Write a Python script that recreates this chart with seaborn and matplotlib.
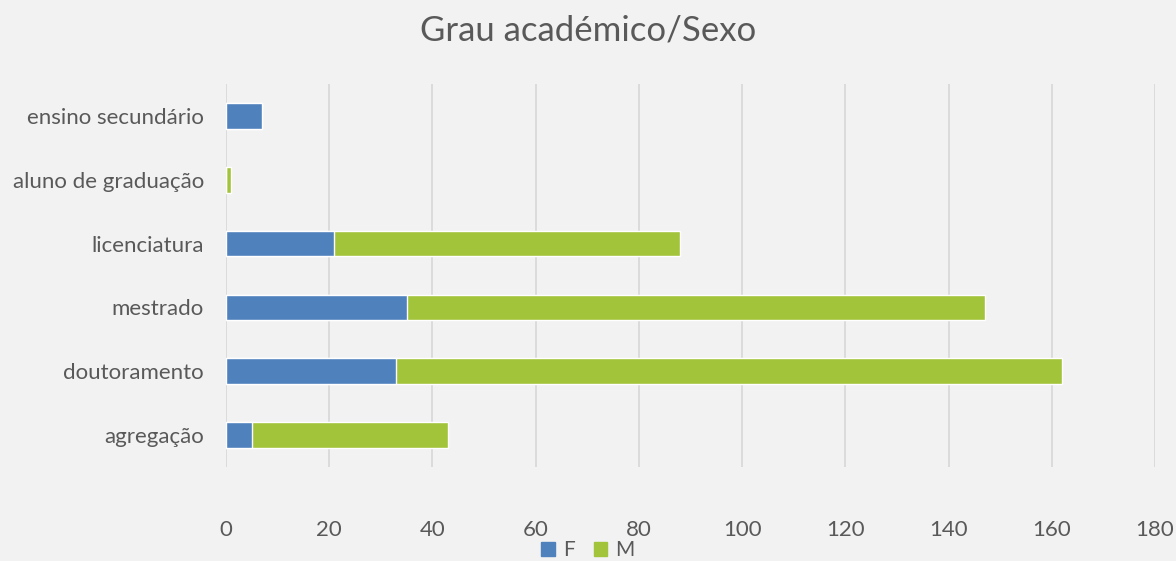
import pandas as pd
import matplotlib.pyplot as plt
import seaborn as sns
from matplotlib.patches import Patch

# data
categories = ["ensino secundário", "aluno de graduação", "licenciatura",
              "mestrado", "doutoramento", "agregação"]
f_values = [7, 0, 21, 35, 33, 5]
m_values = [0, 1, 67, 112, 129, 38]

df = pd.DataFrame({"Grau": categories, "F": f_values, "M": m_values})
df["Total"] = df["F"] + df["M"]

blue = "#4F81BD"
green = "#A2C43A"
bg = "#F2F2F2"
txt = "#595959"

sns.set_theme(style="white")
plt.rcParams["font.family"] = ["Lato", "DejaVu Sans"]

fig = plt.figure(figsize=(11.76, 5.61), dpi=100, facecolor=bg)
ax = fig.add_axes([226 / 1176, 1 - 467 / 561, (1155 - 226) / 1176, (467 - 84) / 561])
ax.set_facecolor(bg)

# stacked: draw total in green, then F over it in blue
sns.barplot(data=df, y="Grau", x="Total", color=green, width=0.4,
            saturation=1, ax=ax, order=categories)
sns.barplot(data=df, y="Grau", x="F", color=blue, width=0.4,
            saturation=1, ax=ax, order=categories)

ax.set_xlim(0, 180)
ax.set_xticks(range(0, 181, 20))
ax.grid(axis="x", color="#D9D9D9", linewidth=1.3)
ax.set_axisbelow(True)
for s in ax.spines.values():
    s.set_visible(False)
ax.set_xlabel("")
ax.set_ylabel("")
ax.tick_params(axis="both", length=0, labelsize=16, colors=txt)
ax.tick_params(axis="x", pad=38)
ax.tick_params(axis="y", pad=16)

fig.text(0.5, 1 - 31 / 561, "Grau académico/Sexo", ha="center", va="center",
         fontsize=25, color=txt)

handles = [Patch(color=blue, label="F"), Patch(color=green, label="M")]
fig.legend(handles=handles, loc="center", ncol=2, frameon=False,
           bbox_to_anchor=(0.5, 1 - 550 / 561), fontsize=15, labelcolor=txt,
           handlelength=0.65, handleheight=0.65, handletextpad=0.4,
           columnspacing=0.9)

plt.savefig("out.png", dpi=100, facecolor=bg)
